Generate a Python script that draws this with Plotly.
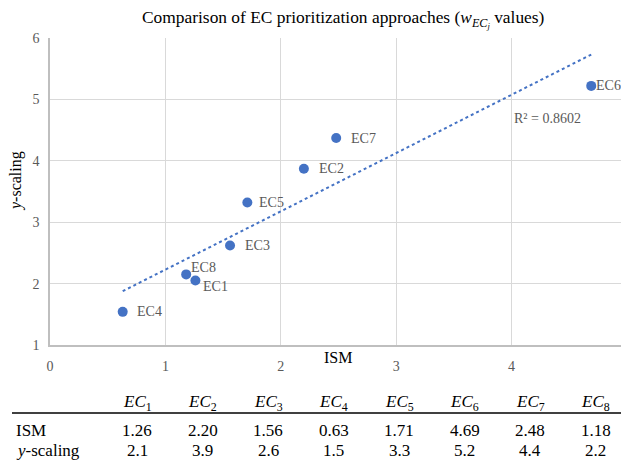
import numpy as np
import plotly.graph_objects as go

# ---- data ----
labels = ["EC1", "EC2", "EC3", "EC4", "EC5", "EC6", "EC7", "EC8"]
ism = [1.26, 2.20, 1.56, 0.63, 1.71, 4.69, 2.48, 1.18]
y_scaling = [2.05, 3.87, 2.62, 1.54, 3.32, 5.22, 4.37, 2.15]
table_ism = ["1.26", "2.20", "1.56", "0.63", "1.71", "4.69", "2.48", "1.18"]
table_y = ["2.1", "3.9", "2.6", "1.5", "3.3", "5.2", "4.4", "2.2"]
r_squared = 0.8602

# label offsets in pixels (style)
label_dx = [6, 13, 13, 12, 10, 3, 13, 3]
label_dy = [-6, 0, 0, 0, 0, 0, 0, 7]

BLUE = "#4472C4"
GRAY = "#595959"
FONT = "Liberation Serif"

# layout in pixels (page has an 8px body margin)
OFF = 8
W, H = 629 - OFF, 463 - OFF
L, R, T, B = 50 - OFF, 2, 38 - OFF, 118
pw, ph = W - L - R, H - T - B


def px(x):
    return (x - OFF - L) / pw


def py(y):
    return (H - B - (y - OFF)) / ph


# trendline via least squares
coef = np.polyfit(ism, y_scaling, 1)
xt = np.array([min(ism), max(ism)])
yt = np.polyval(coef, xt)

fig = go.Figure()
fig.add_trace(go.Scatter(
    x=xt, y=yt, mode="lines",
    line=dict(color=BLUE, width=2, dash="dot"),
    hoverinfo="skip", showlegend=False))
fig.add_trace(go.Scatter(
    x=ism, y=y_scaling, mode="markers",
    marker=dict(color=BLUE, size=10),
    text=labels, showlegend=False, cliponaxis=False))

ann = []
for i, lab in enumerate(labels):
    ann.append(dict(x=ism[i], y=y_scaling[i], xref="x", yref="y",
                    xanchor="left", yanchor="middle", text=lab, showarrow=False,
                    xshift=label_dx[i], yshift=label_dy[i],
                    font=dict(family=FONT, size=14, color=GRAY)))
ann.append(dict(x=4.0, y=4.69, xref="x", yref="y", xanchor="left", yanchor="middle",
                text=f"R² = {r_squared:.4f}", showarrow=False,
                font=dict(family=FONT, size=14, color=GRAY)))
# axis titles
ann.append(dict(x=px(338), y=py(357), xref="paper", yref="paper", text="ISM",
                showarrow=False, font=dict(family=FONT, size=16, color="#000"),
                xanchor="center", yanchor="middle"))
ann.append(dict(x=px(16), y=py(181), xref="paper", yref="paper",
                text="<i>y</i>-scaling", textangle=-90, showarrow=False,
                font=dict(family=FONT, size=16, color="#000"),
                xanchor="center", yanchor="middle"))

# table
col_x = [137 + 65.5 * i for i in range(8)]
TF = dict(family=FONT, size=17, color="#000")
for i in range(8):
    ann.append(dict(x=px(col_x[i]), y=py(403), xref="paper", yref="paper",
                    text=f"<i>EC</i><sub>{i+1}</sub>", showarrow=False,
                    font=TF, xanchor="center", yanchor="middle"))
    ann.append(dict(x=px(col_x[i]), y=py(430), xref="paper", yref="paper",
                    text=table_ism[i], showarrow=False,
                    font=TF, xanchor="center", yanchor="middle"))
    ann.append(dict(x=px(col_x[i]), y=py(450), xref="paper", yref="paper",
                    text=table_y[i], showarrow=False,
                    font=TF, xanchor="center", yanchor="middle"))
ann.append(dict(x=px(14), y=py(430), xref="paper", yref="paper", text="ISM",
                showarrow=False, font=TF, xanchor="left", yanchor="middle"))
ann.append(dict(x=px(14), y=py(450), xref="paper", yref="paper",
                text="<i>y</i>-scaling", showarrow=False,
                font=TF, xanchor="left", yanchor="middle"))

shapes = [
    dict(type="line", xref="paper", yref="paper",
         x0=px(12), x1=px(622), y0=py(413), y1=py(413),
         line=dict(color="#000", width=1.3)),
    dict(type="line", xref="paper", yref="paper", x0=1, x1=1, y0=0, y1=1,
         line=dict(color="#D9D9D9", width=1)),
]

fig.update_layout(
    width=W, height=H,
    margin=dict(l=L, r=R, t=T, b=B),
    paper_bgcolor="white", plot_bgcolor="white",
    title=dict(text="Comparison of EC prioritization approaches (<i>w<sub>EC<sub>j</sub></sub></i> values)",
               x=(142 - OFF) / W, xref="container", xanchor="left",
               y=1 - (17 - OFF) / H, yanchor="middle",
               font=dict(family=FONT, size=17.4, color="#000")),
    xaxis=dict(range=[0, 5], dtick=1, showgrid=True, gridcolor="#D9D9D9",
               showline=True, linecolor="#BFBFBF", linewidth=1.5, zeroline=False,
               ticks="", tickfont=dict(family=FONT, size=14, color=GRAY),
               ticklabelstandoff=7, mirror=False),
    yaxis=dict(range=[1, 6], dtick=1, showgrid=True, gridcolor="#D9D9D9",
               showline=True, linecolor="#BFBFBF", linewidth=1.5, zeroline=False,
               ticks="", tickfont=dict(family=FONT, size=14, color=GRAY),
               ticklabelstandoff=6),
    annotations=ann, shapes=shapes,
)

fig.write_html("out.html")
